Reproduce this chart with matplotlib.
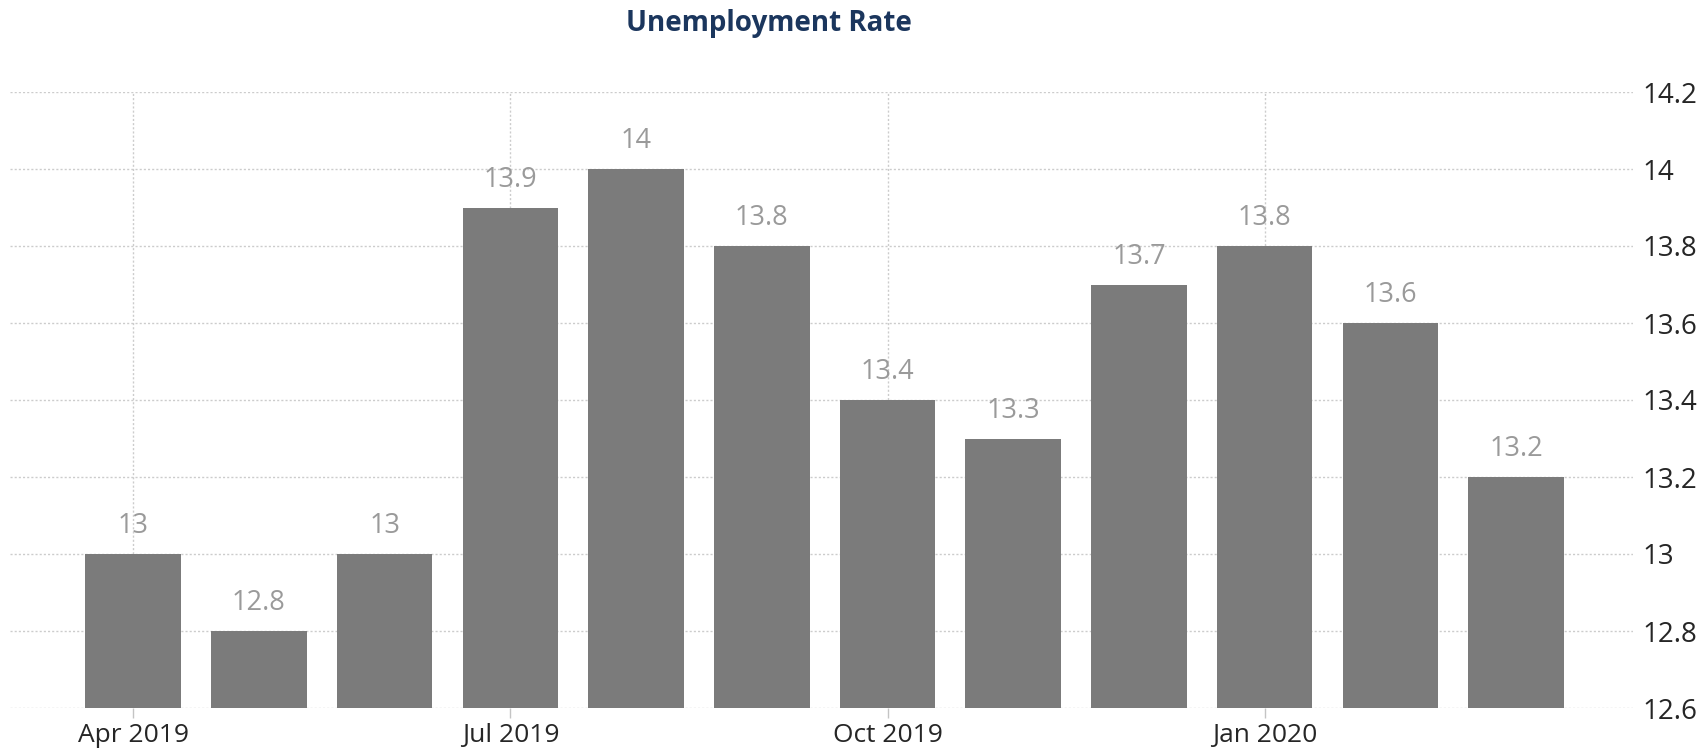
import matplotlib
matplotlib.use("Agg")
import matplotlib.pyplot as plt
import numpy as np

# Monthly unemployment rate, Apr 2019 - Mar 2020
months = ["Apr 2019", "May 2019", "Jun 2019", "Jul 2019", "Aug 2019", "Sep 2019",
          "Oct 2019", "Nov 2019", "Dec 2019", "Jan 2020", "Feb 2020", "Mar 2020"]
rates = [13.0, 12.8, 13.0, 13.9, 14.0, 13.8, 13.4, 13.3, 13.7, 13.8, 13.6, 13.2]
value_labels = ["13", "12.8", "13", "13.9", "14", "13.8", "13.4", "13.3", "13.7", "13.8", "13.6", "13.2"]
xtick_idx = [0, 3, 6, 9]
yticks = [12.6, 12.8, 13.0, 13.2, 13.4, 13.6, 13.8, 14.0, 14.2]
ytick_labels = ["12.6", "12.8", "13", "13.2", "13.4", "13.6", "13.8", "14", "14.2"]

plt.rcParams["font.family"] = ["Open Sans", "DejaVu Sans"]

fig = plt.figure(figsize=(17.06, 7.5), dpi=100)
ax = fig.add_axes([10 / 1706, 42 / 750, 1623 / 1706, 616 / 750])

x = np.arange(len(months))
ax.bar(x, rates, width=0.76, color="#7b7b7b", zorder=2)

for xi, v, lab in zip(x, rates, value_labels):
    ax.annotate(lab, (xi, v), xytext=(0, 10), textcoords="offset points",
                ha="center", va="bottom", fontsize=19.5, color="#9a9a9a")

ax.set_xlim(-0.98, 11.93)
ax.set_ylim(12.6, 14.2)

ax.set_xticks(xtick_idx)
ax.set_xticklabels([months[i] for i in xtick_idx], fontsize=19, color="#262626")
ax.set_yticks(yticks)
ax.set_yticklabels(ytick_labels, fontsize=20, color="#262626")

ax.yaxis.tick_right()
ax.tick_params(axis="y", length=0, pad=7)
ax.tick_params(axis="x", length=7, width=1, color="#c4c4c4", pad=4)

for s in ax.spines.values():
    s.set_visible(False)

ax.grid(True, axis="both", linestyle=(0, (1.5, 1.5)), color="#cccccc", linewidth=1, zorder=0)
ax.set_axisbelow(True)

fig.text(769 / 1706, 1 - 24 / 750, "Unemployment Rate", ha="center", va="center",
         fontsize=20, fontweight="bold", color="#1b365d")

fig.savefig("out.png", dpi=100, facecolor="white")
